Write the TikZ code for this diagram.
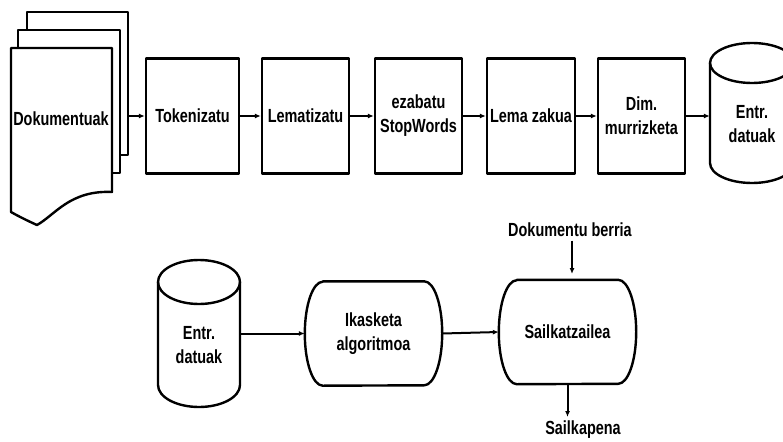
\documentclass[tikz,border=0pt]{standalone}
\usepackage{fontspec}
\setmainfont{Liberation Sans}[FakeStretch=0.76]
\usetikzlibrary{arrows.meta,calc}
\begin{document}
\begin{tikzpicture}[x=1pt,y=-1pt,
  every node/.style={font=\fontsize{19}{24}\selectfont\bfseries, align=center},
  shapeline/.style={line width=2.4pt, line join=round},
  stepbox/.style={shapeline, draw, fill=white, minimum width=87pt, minimum height=115pt, inner sep=0pt},
  procbox/.style={minimum width=137pt, minimum height=104pt, inner sep=0pt},
  pagebox/.style={shapeline, draw, fill=white, inner sep=0pt},
  arr/.style={line width=2pt, -{Latex[length=6pt,width=5pt]}}]
\useasboundingbox (0,0) rectangle (783,441);
\clip (0,0) rectangle (783,441);

% stack of documents
\node[pagebox, minimum width=101pt, minimum height=143pt] (pg3) at (77.5,83.5) {};
\node[pagebox, minimum width=102pt, minimum height=143pt] (pg2) at (69,101.5) {};
\draw[shapeline, fill=white] (11,48) -- (112,48) -- (112,192)
  .. controls (70,190) and (55,215) .. (37,225)
  .. controls (28,221) and (18,216) .. (11,212) -- cycle;
\node (doc) at (61,119) {Dokumentuak};

% preprocessing chain
\node[stepbox, minimum width=93pt] (tok) at (192.5,116) {Tokenizatu};
\node[stepbox] (lem)  at (305.5,116) {Lematizatu};
\node[stepbox] (stop) at (418.5,116) {ezabatu\\StopWords};
\node[stepbox, minimum width=88pt] (lema) at (531,116) {Lema zakua};
\node[stepbox] (dim)  at (641.5,116) {Dim.\\murrizketa};

% training data store (top)
\draw[shapeline, fill=white] (710,63) -- (710,163) arc (180:360:42pt and 20pt) -- (794,63);
\draw[shapeline] (752,63) ellipse [x radius=42pt, y radius=20pt];
\node[minimum width=84pt, inner sep=0pt] (db1) at (752,124) {Entr.\\datuak};

\draw[arr] (pg3.east |- tok.west) -- (tok.west);
\draw[arr] (tok.east) -- (lem.west);
\draw[arr] (lem.east) -- (stop.west);
\draw[arr] (stop.east) -- (lema.west);
\draw[arr] (lema.east) -- (dim.west);
\draw[arr] (dim.east) -- (dim.east -| db1.west);

% training data store (bottom)
\draw[shapeline, fill=white] (158,282) -- (158,385) arc (180:360:41pt and 22pt) -- (240,282);
\draw[shapeline] (199,282) ellipse [x radius=41pt, y radius=22pt];
\node[minimum width=82pt, inner sep=0pt] (db2) at (199,345) {Entr.\\datuak};

% learning and classification: flat top and bottom, elliptic sides
\node[procbox] (ika) at (373.5,333.5) {Ikasketa\\algoritmoa};
\node[procbox] (sai) at (567.5,332) {Sailkatzailea};
\foreach \n in {ika,sai}{
  \draw[shapeline] ($(\n.north west)+(18,0)$) -- ($(\n.north east)+(-18,0)$)
    arc (90:-90:18pt and 52pt) -- ($(\n.south west)+(18,0)$)
    arc (270:90:18pt and 52pt) -- cycle;
}
\node (berria) at (570,230) {Dokumentu berria};
\coordinate (berriaTip) at (572,274);
\node[anchor=north] (sailk) at (583,417) {Sailkapena};

\draw[arr] (db2.east |- ika.west) -- (ika.west);
\draw[arr] (ika.east) -- (sai.west);
\draw[arr] (berria.south -| berriaTip) -- (berriaTip);
\draw[arr] (sai.south) -- (sai.south |- sailk.north);
\end{tikzpicture}
\end{document}
